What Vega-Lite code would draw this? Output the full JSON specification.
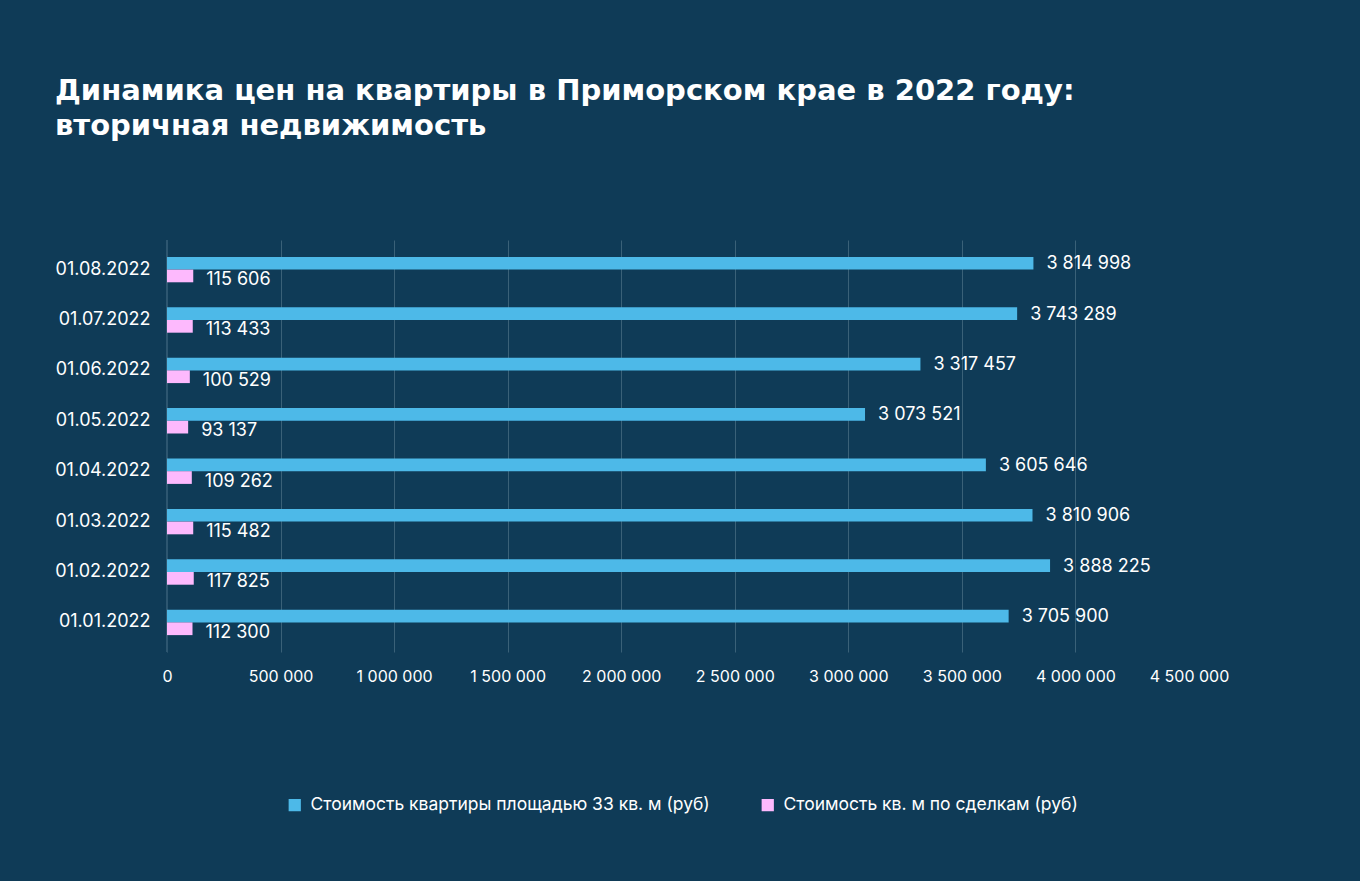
{
  "$schema": "https://vega.github.io/schema/vega-lite/v6.json",
  "width": 1022,
  "height": 412,
  "autosize": {"type": "none"},
  "padding": {"left": 167, "top": 240, "right": 171, "bottom": 229},
  "background": "#0f3b57",
  "title": {
    "text": ["Динамика цен на квартиры в Приморском крае в 2022 году:", "вторичная недвижимость"],
    "anchor": "start",
    "frame": "group",
    "dx": -112,
    "offset": 98,
    "font": "DejaVu Sans",
    "fontSize": 29,
    "fontWeight": "bold",
    "color": "#ffffff",
    "lineHeight": 35
  },
  "config": {
    "view": {"stroke": null},
    "font": "Inter",
    "locale": {"number": {"decimal": ",", "thousands": " ", "grouping": [3], "currency": ["", ""]}}
  },
  "data": {
    "values": [
      {"date": "01.08.2022", "series": "Стоимость квартиры площадью 33 кв. м (руб)", "value": 3814998},
      {"date": "01.08.2022", "series": "Стоимость кв. м по сделкам (руб)", "value": 115606},
      {"date": "01.07.2022", "series": "Стоимость квартиры площадью 33 кв. м (руб)", "value": 3743289},
      {"date": "01.07.2022", "series": "Стоимость кв. м по сделкам (руб)", "value": 113433},
      {"date": "01.06.2022", "series": "Стоимость квартиры площадью 33 кв. м (руб)", "value": 3317457},
      {"date": "01.06.2022", "series": "Стоимость кв. м по сделкам (руб)", "value": 100529},
      {"date": "01.05.2022", "series": "Стоимость квартиры площадью 33 кв. м (руб)", "value": 3073521},
      {"date": "01.05.2022", "series": "Стоимость кв. м по сделкам (руб)", "value": 93137},
      {"date": "01.04.2022", "series": "Стоимость квартиры площадью 33 кв. м (руб)", "value": 3605646},
      {"date": "01.04.2022", "series": "Стоимость кв. м по сделкам (руб)", "value": 109262},
      {"date": "01.03.2022", "series": "Стоимость квартиры площадью 33 кв. м (руб)", "value": 3810906},
      {"date": "01.03.2022", "series": "Стоимость кв. м по сделкам (руб)", "value": 115482},
      {"date": "01.02.2022", "series": "Стоимость квартиры площадью 33 кв. м (руб)", "value": 3888225},
      {"date": "01.02.2022", "series": "Стоимость кв. м по сделкам (руб)", "value": 117825},
      {"date": "01.01.2022", "series": "Стоимость квартиры площадью 33 кв. м (руб)", "value": 3705900},
      {"date": "01.01.2022", "series": "Стоимость кв. м по сделкам (руб)", "value": 112300}
    ]
  },
  "encoding": {
    "y": {
      "field": "date",
      "type": "nominal",
      "sort": ["01.08.2022", "01.07.2022", "01.06.2022", "01.05.2022", "01.04.2022", "01.03.2022", "01.02.2022", "01.01.2022"],
      "scale": {"paddingInner": 0.496, "paddingOuter": 0.335},
      "axis": {
        "title": null,
        "domain": false,
        "ticks": false,
        "labelColor": "#ffffff",
        "labelFont": "Inter",
        "labelFontSize": 18,
        "labelPadding": 17
      }
    },
    "yOffset": {
      "field": "series",
      "type": "nominal",
      "sort": ["Стоимость квартиры площадью 33 кв. м (руб)", "Стоимость кв. м по сделкам (руб)"]
    },
    "x": {
      "field": "value",
      "type": "quantitative",
      "scale": {"domain": [0, 4500000], "nice": false},
      "axis": {
        "title": null,
        "values": [0, 500000, 1000000, 1500000, 2000000, 2500000, 3000000, 3500000, 4000000, 4500000],
        "format": ",d",
        "domain": false,
        "ticks": false,
        "grid": true,
        "gridColor": "#3a6178",
        "gridWidth": 1,
        "gridOpacity": {"condition": {"test": "datum.value >= 4500000", "value": 0}, "value": 1},
        "labelColor": "#ffffff",
        "labelFont": "Inter",
        "labelFontSize": 16,
        "labelPadding": 16,
        "labelFlush": false
      }
    }
  },
  "layer": [
    {
      "mark": {"type": "rule", "color": "#2d5670", "strokeWidth": 2},
      "data": {"values": [{"v": 0}]},
      "encoding": {"x": {"field": "v", "type": "quantitative"}, "y": null, "yOffset": null}
    },
    {
      "mark": {"type": "bar"},
      "encoding": {
        "color": {
          "field": "series",
          "type": "nominal",
          "sort": ["Стоимость квартиры площадью 33 кв. м (руб)", "Стоимость кв. м по сделкам (руб)"],
          "scale": {"range": ["#4db9e8", "#fdb9fd"]},
          "legend": {
            "title": null,
            "orient": "none",
            "legendX": 119,
            "legendY": 556,
            "direction": "horizontal",
            "symbolType": "square",
            "symbolSize": 150,
            "symbolStrokeWidth": 0,
            "labelColor": "#ffffff",
            "labelFont": "Inter",
            "labelFontSize": 17.5,
            "labelOffset": 7,
            "labelLimit": 0,
            "columnPadding": 49,
            "padding": 0
          }
        }
      }
    },
    {
      "transform": [{"filter": "datum.series == 'Стоимость квартиры площадью 33 кв. м (руб)'"}],
      "mark": {"type": "text", "align": "left", "baseline": "middle", "dx": 13, "dy": 1, "color": "#ffffff", "font": "Inter", "fontSize": 18},
      "encoding": {
        "text": {"field": "value", "type": "quantitative", "format": ","}
      }
    },
    {
      "transform": [{"filter": "datum.series == 'Стоимость кв. м по сделкам (руб)'"}],
      "mark": {"type": "text", "align": "left", "baseline": "middle", "dx": 13, "dy": 4, "color": "#ffffff", "font": "Inter", "fontSize": 18},
      "encoding": {
        "text": {"field": "value", "type": "quantitative", "format": ","}
      }
    }
  ]
}
